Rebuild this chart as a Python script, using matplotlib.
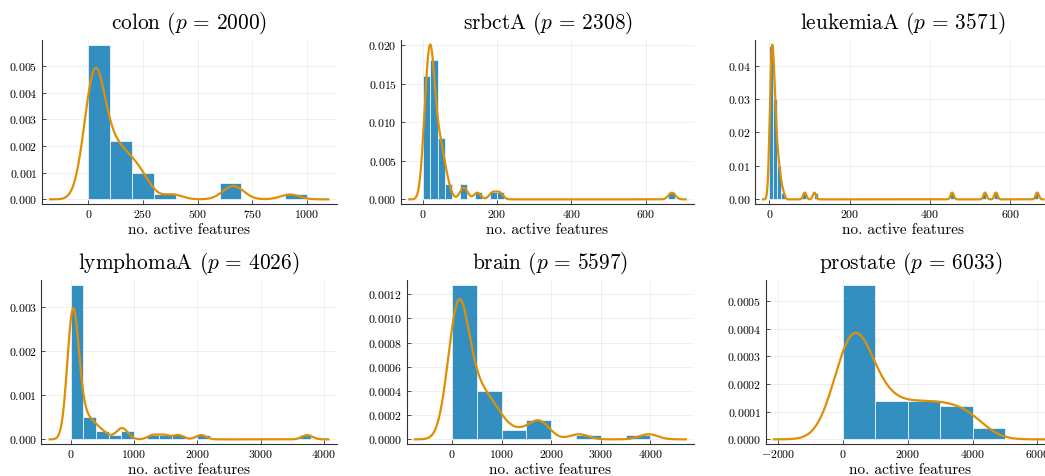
import numpy as np
import matplotlib
matplotlib.use("Agg")
import matplotlib.pyplot as plt
from matplotlib.ticker import FuncFormatter

plt.rcParams['font.family'] = 'cmr10'
plt.rcParams['mathtext.fontset'] = 'cm'
plt.rcParams['axes.formatter.use_mathtext'] = True
plt.rcParams['axes.unicode_minus'] = False

# ---- data: no. of active features per run, for each dataset ----
datasets = ["colon", "srbctA", "leukemiaA", "lymphomaA", "brain", "prostate"]
n_features = [2000, 2308, 3571, 4026, 5597, 6033]

colon = [0, 3, 6, 9, 11, 13, 15, 17, 19, 21, 23, 24, 26, 27, 29, 30, 32, 34, 36, 38,
         40, 43, 46, 50, 54, 59, 65, 74, 88,
         104, 110, 117, 124, 132, 140, 150, 160, 172, 184, 196,
         210, 222, 235, 250, 270, 385, 640, 662, 685, 922]
srbct = [1, 3, 5, 7, 8, 9, 10, 11, 12, 13, 14, 15, 16, 17, 18, 19,
         20, 21, 21, 22, 22, 23, 24, 24, 25, 26, 27, 28, 29, 30, 32, 34, 36, 38,
         41, 43, 45, 47, 49, 52, 55, 58, 63, 71, 106, 115, 147, 188, 207, 671]
leukemia = [0, 1, 2, 2, 3, 3, 4, 4, 4, 5, 5, 5, 6, 6, 6, 7, 7, 7, 8, 8, 9, 9, 9,
            10, 10, 11, 11, 12, 12, 13, 13, 14, 15, 15, 16, 17, 18, 19,
            21, 22, 24, 26, 28, 34, 88, 112, 455, 537, 564, 667]
lymphoma = [0, 1, 2, 3, 5, 6, 8, 9, 11, 13, 15, 17, 19, 21, 23, 26, 29, 32, 35, 38,
            42, 46, 50, 55, 60, 66, 72, 80, 88, 97, 108, 120, 135, 155, 180,
            220, 260, 300, 340, 380, 450, 540, 760, 810, 860,
            1300, 1480, 1700, 2060, 3736]
brain = [2, 10, 18, 26, 34, 42, 50, 58, 66, 75, 84, 93, 102, 112, 122, 132,
         142, 153, 164, 176, 188, 201, 215, 230, 246, 264, 284, 306, 332, 362, 400, 455,
         520, 550, 590, 630, 680, 730, 790, 850, 910, 970,
         1150, 1380, 1620, 1720, 1790, 1870, 2560, 3960]
prostate = [10, 30, 50, 70, 90, 110, 130, 150, 170, 190, 210, 230, 260, 290, 320,
            350, 380, 420, 460, 500, 550, 600, 650, 700, 760, 820, 880, 950,
            1100, 1250, 1400, 1550, 1700, 1800, 1900,
            2100, 2250, 2400, 2550, 2700, 2800, 2900,
            3100, 3250, 3400, 3550, 3700, 3850, 4050, 4150]
samples = [colon, srbct, leukemia, lymphoma, brain, prostate]

bin_width = [100, 20, 10, 200, 500, 1000]
x_ticks = [[0, 250, 500, 750, 1000], [0, 200, 400, 600], [0, 200, 400, 600],
           [0, 1000, 2000, 3000, 4000], [0, 1000, 2000, 3000, 4000],
           [-2000, 0, 2000, 4000, 6000]]
y_ticks = [np.arange(0, 0.0051, 0.001), np.arange(0, 0.0201, 0.005),
           np.arange(0, 0.041, 0.01), np.arange(0, 0.0031, 0.001),
           np.arange(0, 0.00121, 0.0002), np.arange(0, 0.00051, 0.0001)]
y_decimals = [3, 3, 2, 3, 4, 4]

# axes boxes in pixels: left, top, right, bottom
W, H = 1045, 476
boxes = [(41.7, 40, 336.7, 204), (401, 40, 694, 204), (754.7, 40, 1052, 204),
         (41.3, 280, 336.7, 444), (406.7, 280, 694, 444), (765.7, 280, 1055, 444)]

bar_color = "#0173B2"
line_color = "#DE8F05"


def kde(x):
    # gaussian kde, silverman bandwidth, grid +-4 bw past the data
    x = np.asarray(x, float)
    q25, q75 = np.quantile(x, [0.25, 0.75])
    bw = 0.9 * min(x.std(ddof=1), (q75 - q25) / 1.34) * len(x) ** -0.2
    grid = np.linspace(x.min() - 4 * bw, x.max() + 4 * bw, 800)
    d = np.exp(-0.5 * ((grid[:, None] - x[None, :]) / bw) ** 2).sum(axis=1)
    return grid, d / (len(x) * bw * np.sqrt(2 * np.pi))


fig = plt.figure(figsize=(W / 100, H / 100), dpi=100)

for i in range(6):
    l, t, r, b = boxes[i]
    ax = fig.add_axes([l / W, 1 - b / H, (r - l) / W, (b - t) / H])
    data = np.array(samples[i])
    edges = np.arange(0, data.max() + bin_width[i], bin_width[i])
    ax.hist(data, bins=edges, density=True, color=bar_color, alpha=0.8,
            edgecolor=(1, 1, 1, 0.3), linewidth=0.6, zorder=2)
    gx, gy = kde(data)
    ax.plot(gx, gy, color=line_color, lw=1.6, zorder=3)

    ax.use_sticky_edges = False
    ax.margins(0.03)
    ax.set_xticks(x_ticks[i])
    ax.set_yticks(y_ticks[i])
    d = y_decimals[i]
    ax.yaxis.set_major_formatter(FuncFormatter(lambda v, p, d=d: f"${v:.{d}f}$"))
    ax.xaxis.set_major_formatter(FuncFormatter(lambda v, p: f"${v:.0f}$"))
    ax.grid(True, color="black", alpha=0.07, lw=0.6, zorder=0)
    ax.set_axisbelow(True)
    for s in ["top", "right"]:
        ax.spines[s].set_visible(False)
    for s in ["left", "bottom"]:
        ax.spines[s].set_color("#333333")
        ax.spines[s].set_linewidth(0.8)
    ax.tick_params(direction="in", length=3, width=0.6, color="#333333",
                   labelsize=8.5, pad=3)
    ax.set_xlabel("no. active features", fontsize=11, labelpad=2)
    ax.set_title(f"{datasets[i]} ($p\\,=\\,{n_features[i]}$)", fontsize=15.4, pad=8)

fig.savefig("out.png", dpi=100)
